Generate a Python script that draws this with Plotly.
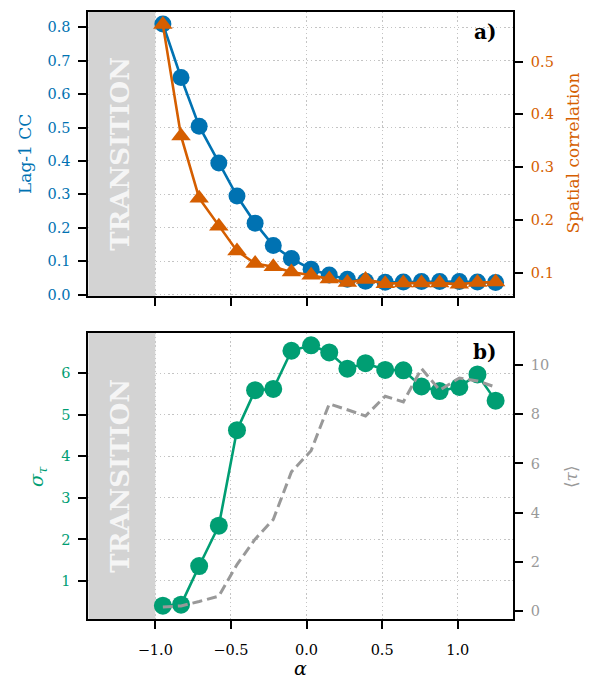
import plotly.graph_objects as go

# ---- data ----
alpha = [-0.95, -0.83, -0.71, -0.58, -0.46, -0.34, -0.22, -0.10, 0.03, 0.15,
         0.27, 0.39, 0.52, 0.64, 0.76, 0.88, 1.01, 1.13, 1.25]
lag1_cc = [0.81, 0.65, 0.504, 0.394, 0.295, 0.214, 0.147, 0.108, 0.076, 0.059,
           0.046, 0.040, 0.037, 0.038, 0.039, 0.039, 0.039, 0.038, 0.036]
spatial_corr = [0.57, 0.359, 0.241, 0.188, 0.141, 0.117, 0.111, 0.101, 0.095, 0.088,
                0.081, 0.087, 0.079, 0.080, 0.080, 0.080, 0.078, 0.081, 0.082]
sigma_tau = [0.405, 0.43, 1.36, 2.33, 4.63, 5.59, 5.62, 6.54, 6.67, 6.50,
             6.11, 6.24, 6.08, 6.07, 5.68, 5.57, 5.67, 5.97, 5.34]
mean_tau = [0.18, 0.22, 0.40, 0.62, 1.90, 2.93, 3.73, 5.66, 6.52, 8.42,
            8.18, 7.93, 8.73, 8.50, 9.85, 8.98, 9.47, 9.35, 9.10]

x_ticks = [-1.0, -0.5, 0.0, 0.5, 1.0]
x_ticktext = ["\u22121.0", "\u22120.5", "0.0", "0.5", "1.0"]
cc_ticks = [0.0, 0.1, 0.2, 0.3, 0.4, 0.5, 0.6, 0.7, 0.8]
sp_ticks = [0.1, 0.2, 0.3, 0.4, 0.5]
sig_ticks = [1, 2, 3, 4, 5, 6]
tau_ticks = [0, 2, 4, 6, 8, 10]
transition_edge = -1.0

BLUE = "#0072B2"
ORANGE = "#D55E00"
GREEN = "#009E73"
GRAY = "#999999"
FONT = "DejaVu Serif"

# page body has a margin: the figure is placed near (8, 8)
OFFX, OFFY = 8, 6
W, H = 594 - 8, 681 - 8
XR = [-1.443, 1.365]
CC_R = [-0.004, 0.846]
SP_R = [0.0556, 0.594]
SIG_R = [0.088, 6.97]
TAU_R = [-0.305, 11.30]


def px(x):
    return (x - OFFX) / W


def py(y):
    return 1 - (y - OFFY) / H


xdom = [px(88.3), px(513)]
top_dom = [py(297), py(10)]
bot_dom = [py(623.3), py(334.3)]

fig = go.Figure()
fig.add_trace(go.Scatter(x=alpha, y=lag1_cc, xaxis="x2", yaxis="y3", mode="lines+markers",
                         line=dict(color=BLUE, width=2.6),
                         marker=dict(symbol="circle", size=17, color=BLUE),
                         name="Lag-1 CC", showlegend=False))
fig.add_trace(go.Scatter(x=alpha, y=spatial_corr, xaxis="x2", yaxis="y4", mode="lines+markers",
                         line=dict(color=ORANGE, width=2.6),
                         marker=dict(symbol="triangle-up", size=17, color=ORANGE),
                         name="Spatial correlation", showlegend=False))
fig.add_trace(go.Scatter(x=alpha, y=sigma_tau, xaxis="x", yaxis="y", mode="lines+markers",
                         line=dict(color=GREEN, width=2.6),
                         marker=dict(symbol="circle", size=18, color=GREEN),
                         name="sigma_tau", showlegend=False))
fig.add_trace(go.Scatter(x=alpha, y=mean_tau, xaxis="x", yaxis="y2", mode="lines",
                         line=dict(color=GRAY, width=3, dash="10px,5px"),
                         name="mean tau", showlegend=False))

common_axis = dict(showline=True, linecolor="black", linewidth=1.8,
                   ticks="outside", ticklen=8, tickwidth=1.7, tickcolor="black",
                   zeroline=False, ticklabelstandoff=5)
grid = dict(showgrid=True, gridcolor="#c4c4c4", griddash="1.4px,2.8px", gridwidth=1.3)
TF = 14.5

fig.update_layout(
    width=W, height=H, margin=dict(l=0, r=0, t=0, b=0),
    paper_bgcolor="white", plot_bgcolor="white",
    font=dict(family=FONT, size=14, color="black"),
    showlegend=False,
    xaxis=dict(domain=xdom, anchor="y", range=XR, tickvals=x_ticks, ticktext=x_ticktext,
               mirror=True, tickfont=dict(size=TF, color="black"), **grid,
               **{**common_axis, "ticklabelstandoff": 9}),
    yaxis=dict(domain=bot_dom, anchor="x", range=SIG_R, tickvals=sig_ticks,
               ticktext=[str(v) for v in sig_ticks], mirror=True,
               tickfont=dict(size=TF, color=GREEN), **grid, **common_axis),
    yaxis2=dict(overlaying="y", side="right", anchor="x", range=TAU_R,
                tickvals=tau_ticks, ticktext=[str(v) for v in tau_ticks], showgrid=False,
                tickfont=dict(size=TF, color=GRAY), **common_axis),
    xaxis2=dict(domain=xdom, anchor="y3", range=XR, tickvals=x_ticks, showticklabels=False,
                mirror=True, **grid, **common_axis),
    yaxis3=dict(domain=top_dom, anchor="x2", range=CC_R, tickvals=cc_ticks,
                ticktext=["%.1f" % v for v in cc_ticks], mirror=True,
                tickfont=dict(size=TF, color=BLUE), **grid, **common_axis),
    yaxis4=dict(overlaying="y3", side="right", anchor="x2", range=SP_R,
                tickvals=sp_ticks, ticktext=["%.1f" % v for v in sp_ticks], showgrid=False,
                tickfont=dict(size=TF, color=ORANGE), **common_axis),
)

# transition shading
for xr, yr, rng in (("x2", "y3", CC_R), ("x", "y", SIG_R)):
    fig.add_shape(type="rect", xref=xr, yref=yr, x0=XR[0], x1=transition_edge,
                  y0=rng[0], y1=rng[1],
                  fillcolor="#d3d3d3", line=dict(width=0), layer="between")
    fig.add_annotation(xref=xr, yref=yr, x=-1.235, y=(rng[0] + rng[1]) / 2,
                       text="<b>TRANSITION</b>", textangle=-90, showarrow=False,
                       font=dict(family=FONT, size=26, color="rgba(255,255,255,0.8)"))


def pann(text, x, y, color, size, angle=0):
    fig.add_annotation(xref="paper", yref="paper", x=px(x), y=py(y), text=text,
                       showarrow=False, textangle=angle, xanchor="center", yanchor="middle",
                       font=dict(family=FONT, size=size, color=color))


pann("<b>a)</b>", 484.5, 30, "black", 20)
pann("<b>b)</b>", 484.5, 354, "black", 20)
pann("Lag-1 CC", 25, 153.5, BLUE, 17, -90)
pann("Spatial correlation", 573, 153, ORANGE, 17, -90)
pann("<i>σ</i><sub><i>τ</i></sub>", 37, 480, GREEN, 19, -90)
pann("⟨<i>τ</i>⟩", 571, 480, GRAY, 17, -90)
pann("<i>α</i>", 300.5, 673, "black", 19)

fig.write_html("out.html")
